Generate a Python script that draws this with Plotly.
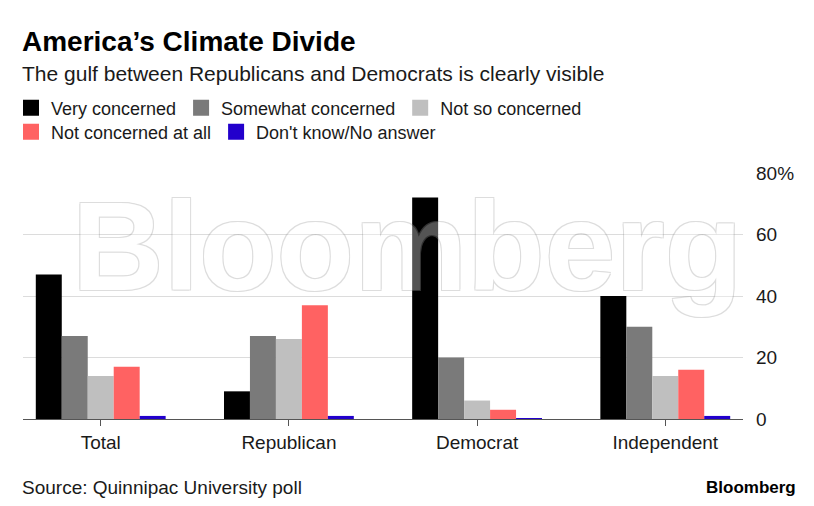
import plotly.graph_objects as go

categories = ["Total", "Republican", "Democrat", "Independent"]
series_names = ["Very concerned", "Somewhat concerned", "Not so concerned",
                "Not concerned at all", "Don't know/No answer"]
very_concerned = [47, 9, 72, 40]
somewhat_concerned = [27, 27, 20, 30]
not_so_concerned = [14, 26, 6, 14]
not_concerned_at_all = [17, 37, 3, 16]
dont_know = [1, 1, 0.3, 1]
y_tickvals = [0, 20, 40, 60, 80]
y_ticktext = ["0", "20", "40", "60", "80%"]

series_values = [very_concerned, somewhat_concerned, not_so_concerned,
                 not_concerned_at_all, dont_know]
colors = ["#000000", "#7a7a7a", "#bfbfbf", "#ff6262", "#2200cc"]

FONT = "Liberation Sans, Arial, sans-serif"
fig = go.Figure()
for name, vals, col in zip(series_names, series_values, colors):
    fig.add_trace(go.Bar(x=categories, y=vals, name=name, marker_color=col,
                         marker_line_width=0, showlegend=False))
for i, (name, col) in enumerate(zip(series_names, colors)):
    fig.add_trace(go.Scatter(x=[None], y=[None], mode="markers", name=name,
                             marker=dict(symbol="square", size=16, color=col),
                             legend="legend" if i < 3 else "legend2",
                             hoverinfo="skip"))

W, H = 814, 506
L, R, T, B = 23, 71, 173, 87
ph = H - T - B

def py(pix):
    return (H - B - pix) / ph

def px(pix):
    return (pix - L) / (W - L - R)

fig.update_layout(
    width=W, height=H,
    margin=dict(l=L, r=R, t=T, b=B),
    paper_bgcolor="white", plot_bgcolor="white",
    font=dict(family=FONT, size=18, color="#1a1a1a"),
    barmode="group", bargap=0.31, bargroupgap=0,
    xaxis=dict(range=[-0.413, 3.413], showline=True, linecolor="#555555",
               linewidth=1, ticks="outside", ticklen=6, tickcolor="#555555",
               tickfont=dict(size=19, color="#1a1a1a"), showgrid=False,
               fixedrange=True),
    yaxis=dict(range=[0, 80], side="right", tickvals=y_tickvals,
               ticktext=y_ticktext, showgrid=True, gridcolor="#dcdcdc",
               gridwidth=1, zeroline=False, showline=False, ticks="",
               ticklabelstandoff=12, tickfont=dict(size=19, color="#1a1a1a"),
               fixedrange=True),
    legend=dict(orientation="h", xref="container", yref="container",
                x=11 / W, y=1 - 108 / H, xanchor="left", yanchor="middle",
                font=dict(size=18, color="#1a1a1a"), itemclick=False,
                tracegroupgap=0, bgcolor="rgba(0,0,0,0)"),
    legend2=dict(orientation="h", xref="container", yref="container",
                 x=11 / W, y=1 - 132 / H, xanchor="left", yanchor="middle",
                 font=dict(size=18, color="#1a1a1a"), itemclick=False,
                 bgcolor="rgba(0,0,0,0)"),
)

ann = []
ann.append(dict(text="Bloomberg", x=px(407), y=py(246), xref="paper", yref="paper",
                xanchor="center", yanchor="middle", showarrow=False, opacity=0.33,
                font=dict(family=FONT, size=127, color="#ffffff",
                          weight="bold",
                          shadow="1px 1px 0 #999999, -1px -1px 0 #999999, 1px -1px 0 #999999, -1px 1px 0 #999999")))
ann.append(dict(text="<b>America’s Climate Divide</b>", x=px(20), y=py(41),
                xref="paper", yref="paper", xanchor="left", yanchor="middle",
                showarrow=False, font=dict(family=FONT, size=28, color="#000000")))
ann.append(dict(text="The gulf between Republicans and Democrats is clearly visible",
                x=px(20), y=py(73), xref="paper", yref="paper", xanchor="left",
                yanchor="middle", showarrow=False,
                font=dict(family=FONT, size=21, color="#1a1a1a")))
ann.append(dict(text="Source: Quinnipac University poll", x=px(20), y=py(487),
                xref="paper", yref="paper", xanchor="left", yanchor="middle",
                showarrow=False, font=dict(family=FONT, size=19, color="#1a1a1a")))
ann.append(dict(text="<b>Bloomberg</b>", x=px(798), y=py(487), xref="paper",
                yref="paper", xanchor="right", yanchor="middle", showarrow=False,
                font=dict(family=FONT, size=17, color="#000000")))
fig.update_layout(annotations=ann)

fig.write_html("out.html", config={"displayModeBar": False},
               post_script="document.body.style.margin='0';")
